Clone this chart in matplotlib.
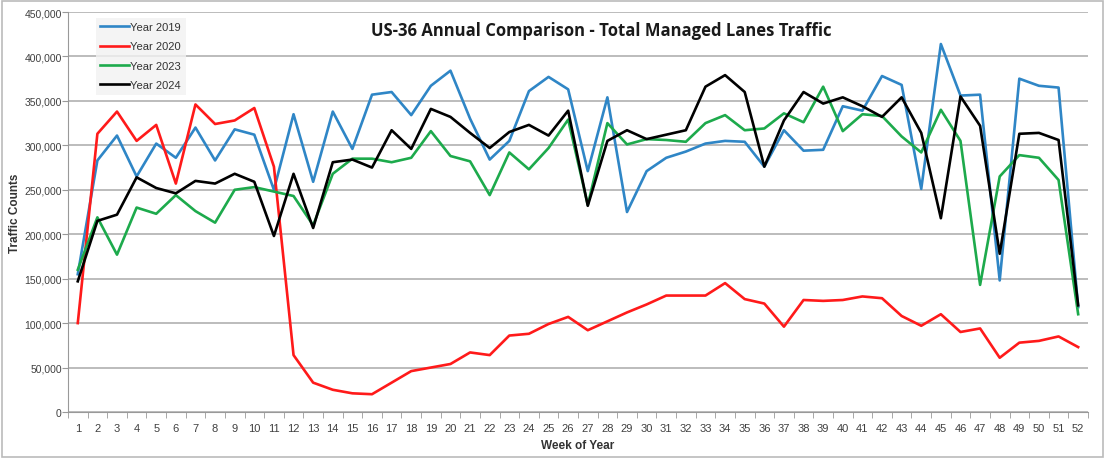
import matplotlib.pyplot as plt
from matplotlib.patches import Rectangle
from matplotlib.ticker import FuncFormatter, MultipleLocator

plt.rcParams['font.family'] = ['Liberation Sans', 'DejaVu Sans']

weeks = list(range(1, 53))

# weekly totals
year_2019 = [155000, 283000, 311000, 265000, 302000, 286000, 320000, 283000, 318000, 312000,
             250000, 335000, 259000, 338000, 296000, 357000, 360000, 334000, 367000, 384000,
             330000, 284000, 305000, 361000, 377000, 363000, 271000, 354000, 225000, 271000,
             286000, 293000, 302000, 305000, 304000, 276000, 317000, 294000, 295000, 344000,
             339000, 378000, 368000, 251000, 414000, 356000, 357000, 148000, 375000, 367000,
             365000, 118000]
year_2020 = [100000, 313000, 338000, 305000, 323000, 257000, 346000, 324000, 328000, 342000,
             276000, 64000, 33000, 25000, 21000, 20000, 33000, 46000, 50000, 54000,
             67000, 64000, 86000, 88000, 99000, 107000, 92000, 102000, 112000, 121000,
             131000, 131000, 131000, 145000, 127000, 122000, 96000, 126000, 125000, 126000,
             130000, 128000, 108000, 97000, 110000, 90000, 94000, 61000, 78000, 80000,
             85000, 73000]
year_2023 = [160000, 219000, 177000, 230000, 223000, 244000, 226000, 213000, 250000, 253000,
             248000, 243000, 210000, 268000, 285000, 285000, 281000, 286000, 316000, 288000,
             282000, 244000, 292000, 273000, 297000, 329000, 233000, 325000, 301000, 307000,
             306000, 304000, 325000, 334000, 317000, 319000, 336000, 326000, 366000, 316000,
             335000, 333000, 310000, 292000, 340000, 305000, 143000, 265000, 289000, 286000,
             261000, 110000]
year_2024 = [147000, 215000, 222000, 264000, 252000, 246000, 260000, 257000, 268000, 259000,
             198000, 268000, 207000, 281000, 284000, 275000, 317000, 296000, 341000, 332000,
             314000, 297000, 315000, 323000, 311000, 339000, 232000, 305000, 317000, 307000,
             312000, 317000, 366000, 379000, 360000, 276000, 328000, 360000, 347000, 354000,
             344000, 332000, 354000, 314000, 218000, 355000, 322000, 178000, 313000, 314000,
             306000, 120000]

series = [("Year 2019", year_2019, "#2F86C6"),
          ("Year 2020", year_2020, "#FF1A1A"),
          ("Year 2023", year_2023, "#1DAA4C"),
          ("Year 2024", year_2024, "#000000")]

fig = plt.figure(figsize=(11.05, 4.6), dpi=100)
ax = fig.add_axes([0.0615, 0.1022, 0.9231, 0.8695])

for name, vals, col in series:
    ax.plot(weeks, vals, color=col, linewidth=1.9, label=name)

ax.set_xlim(0.5, 52.5)
ax.set_ylim(0, 450000)
ax.yaxis.set_major_locator(MultipleLocator(50000))
ax.yaxis.set_major_formatter(FuncFormatter(lambda v, p: f"{int(v):,}"))
ax.set_xticks(weeks)
ax.set_xticks([w + 0.5 for w in range(0, 53)], minor=True)
ax.tick_params(axis='x', which='major', length=0, labelsize=8, labelcolor='#404040', pad=8)
ax.tick_params(axis='x', which='minor', length=4, color='#999999', direction='out')
ax.tick_params(axis='y', length=4, color='#999999', labelsize=7.5, labelcolor='#404040', pad=0.5)

ax.grid(axis='y', color='#B0B0B0', linewidth=1.2)
ax.set_axisbelow(True)
for s in ['top', 'right']:
    ax.spines[s].set_visible(False)
ax.spines['left'].set_color('#999999')
ax.spines['bottom'].set_color('#999999')

ax.set_xlabel("Week of Year", fontsize=8.5, fontweight='bold', color='#333333', labelpad=4)
ax.set_ylabel("Traffic Counts", fontsize=8.5, fontweight='bold', color='#333333', labelpad=1)
ax.yaxis.set_label_coords(-0.046, 0.5)
ax.text(0.5225, 0.955, "US-36 Annual Comparison - Total Managed Lanes Traffic",
        transform=ax.transAxes, ha='center', va='center', fontsize=12, fontweight='bold',
        family=['Open Sans', 'DejaVu Sans'], color='#1a1a1a')

leg = ax.legend(loc='upper left', bbox_to_anchor=(0.022, 1.0), fontsize=8, frameon=True,
                handlelength=2.6, handletextpad=0.1, labelspacing=0.85, borderpad=0.4,
                fancybox=False)
leg.get_frame().set_facecolor('#F2F2F2')
leg.get_frame().set_edgecolor('none')
for t in leg.get_texts():
    t.set_color('#333333')

fig.patches.append(Rectangle((0.002, 0.004), 0.996, 0.992, transform=fig.transFigure,
                             fill=False, edgecolor='#BBBBBB', linewidth=1.2))

fig.savefig("out.png", dpi=100)
